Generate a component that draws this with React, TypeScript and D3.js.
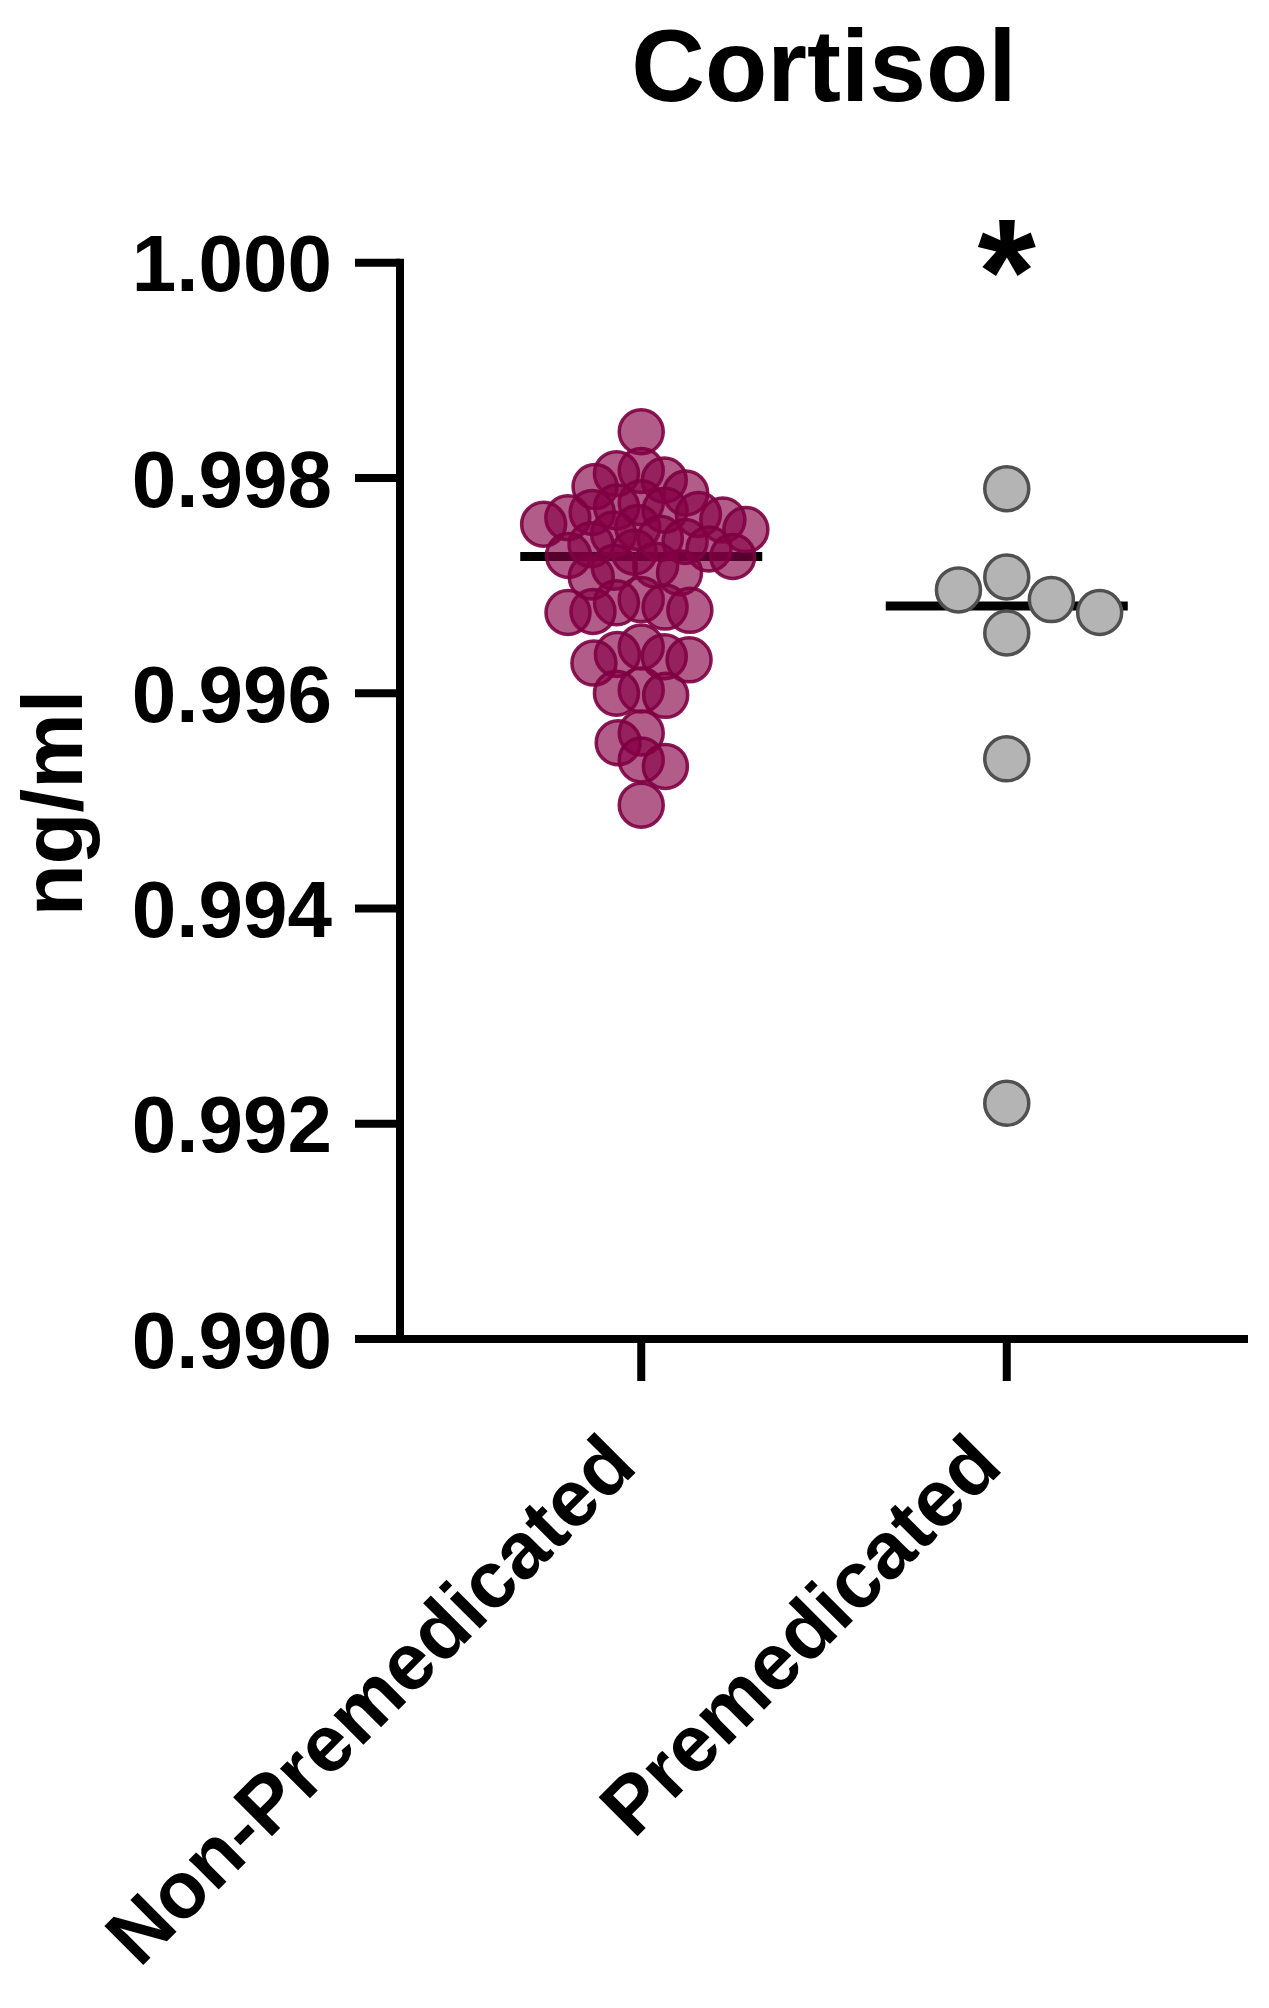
import React, { useMemo } from "react";
import * as d3 from "d3";

// group names along the x axis
const groups = ["Non-Premedicated", "Premedicated"];

// cortisol values (ng/ml)
const nonPremedicated = [
  0.99843, 0.99807, 0.99804, 0.99798, 0.99792, 0.99786, 0.99777, 0.99773,
  0.9977, 0.99768, 0.99766, 0.99763, 0.99761, 0.99757, 0.99754, 0.99752,
  0.99748, 0.99744, 0.99741, 0.99738, 0.99734, 0.99731, 0.99728, 0.99727,
  0.99719, 0.99717, 0.99712, 0.99708, 0.99687, 0.99684, 0.9968, 0.99677,
  0.99676, 0.99675, 0.99643, 0.99636, 0.99634, 0.99631, 0.99628, 0.99603,
  0.996, 0.99598, 0.99563, 0.99554, 0.99538, 0.99532, 0.99496,
];
const premedicated = [
  0.9979, 0.99708, 0.99675, 0.99656, 0.99687, 0.99696, 0.99539, 0.99219,
];

const yTicks = [0.99, 0.992, 0.994, 0.996, 0.998, 1.0];
const yDomain = [0.99, 1.0];

const FONT = "'Liberation Sans', Arial, Helvetica, sans-serif";

// simple greedy beeswarm: returns x offsets for points at pixel y positions
function swarm(ys: number[], minDist: number) {
  const order = d3.range(ys.length).sort((a, b) => ys[a] - ys[b]);
  const placed: { x: number; y: number }[] = [];
  const xs = new Array(ys.length).fill(0);
  order.forEach((i) => {
    const y = ys[i];
    const blocks = placed
      .filter((p) => Math.abs(p.y - y) < minDist)
      .map((p) => {
        const w = Math.sqrt(minDist * minDist - (p.y - y) ** 2);
        return [p.x - w, p.x + w];
      });
    const cands = [0, ...blocks.flat()].sort(
      (a, b) => Math.abs(a) - Math.abs(b)
    );
    const x =
      cands.find((c) =>
        blocks.every(([lo, hi]) => c <= lo + 1e-6 || c >= hi - 1e-6)
      ) ?? 0;
    xs[i] = x;
    placed.push({ x, y });
  });
  return xs;
}

export default function App() {
  const width = 1269;
  const height = 2008;

  const MARGIN = { top: 262.7, right: 21, bottom: 669, left: 400 };
  const x0 = MARGIN.left;
  const x1 = width - MARGIN.right;
  const yBottom = height - MARGIN.bottom;

  const yScale = useMemo(
    () => d3.scaleLinear().domain(yDomain).range([yBottom, MARGIN.top]),
    []
  );
  const xScale = useMemo(
    () => d3.scalePoint().domain(groups).range([x0, x1]).padding(0.66),
    []
  );

  const series = [
    {
      name: groups[0],
      values: nonPremedicated,
      fill: "#850047",
      fillOpacity: 0.64,
      stroke: "#7d0041",
      strokeOpacity: 0.9,
      minDist: 25,
    },
    {
      name: groups[1],
      values: premedicated,
      fill: "#b4b4b4",
      fillOpacity: 1,
      stroke: "#505050",
      strokeOpacity: 1,
      minDist: 50,
    },
  ];

  const fmt = d3.format(".3f");
  const r = 22;

  return (
    <svg
      width={width}
      height={height}
      style={{ position: "absolute", left: 0, top: 0, background: "#fff" }}
    >
      <text
        x={824}
        y={101}
        textAnchor="middle"
        fontFamily={FONT}
        fontWeight="bold"
        fontSize={102}
      >
        Cortisol
      </text>

      {/* median lines, under the dots */}
      {series.map((s) => {
        const cx = xScale(s.name) ?? 0;
        const med = d3.median(s.values) ?? 0;
        return (
          <line
            key={"m" + s.name}
            x1={cx - 121}
            x2={cx + 121}
            y1={yScale(med)}
            y2={yScale(med)}
            stroke="#000"
            strokeWidth={9}
          />
        );
      })}

      {series.map((s) => {
        const cx = xScale(s.name) ?? 0;
        const ys = s.values.map((v) => yScale(v));
        const xs = swarm(ys, s.minDist);
        return (
          <g key={s.name}>
            {ys.map((y, i) => (
              <circle
                key={i}
                cx={cx + xs[i]}
                cy={y}
                r={r}
                fill={s.fill}
                fillOpacity={s.fillOpacity}
                stroke={s.stroke}
                strokeOpacity={s.strokeOpacity}
                strokeWidth={3.5}
              />
            ))}
          </g>
        );
      })}

      {/* y axis */}
      <line x1={x0} x2={x0} y1={MARGIN.top - 4} y2={yBottom + 4} stroke="#000" strokeWidth={8} />
      {yTicks.map((t) => (
        <g key={t}>
          <line x1={355} x2={x0} y1={yScale(t)} y2={yScale(t)} stroke="#000" strokeWidth={8} />
          <text
            x={332}
            y={yScale(t) + 28.6}
            textAnchor="end"
            fontFamily={FONT}
            fontWeight="bold"
            fontSize={80}
          >
            {fmt(t)}
          </text>
        </g>
      ))}

      {/* x axis */}
      <line x1={x0 - 4} x2={x1} y1={yBottom} y2={yBottom} stroke="#000" strokeWidth={8} />
      {groups.map((g) => {
        const gx = xScale(g) ?? 0;
        return (
          <g key={g}>
            <line x1={gx} x2={gx} y1={yBottom} y2={yBottom + 42} stroke="#000" strokeWidth={8} />
            <text
              transform={`translate(${gx - 2},${yBottom + 130}) rotate(-45)`}
              textAnchor="end"
              fontFamily={FONT}
              fontWeight="bold"
              fontSize={80}
            >
              {g}
            </text>
          </g>
        );
      })}

      {/* significance mark */}
      <text
        x={xScale(groups[1])}
        y={324}
        textAnchor="middle"
        fontFamily={FONT}
        fontWeight="bold"
        fontSize={150}
      >
        *
      </text>

      <text
        transform={`translate(82,803) rotate(-90)`}
        textAnchor="middle"
        fontFamily={FONT}
        fontWeight="bold"
        fontSize={85}
      >
        ng/ml
      </text>
    </svg>
  );
}
